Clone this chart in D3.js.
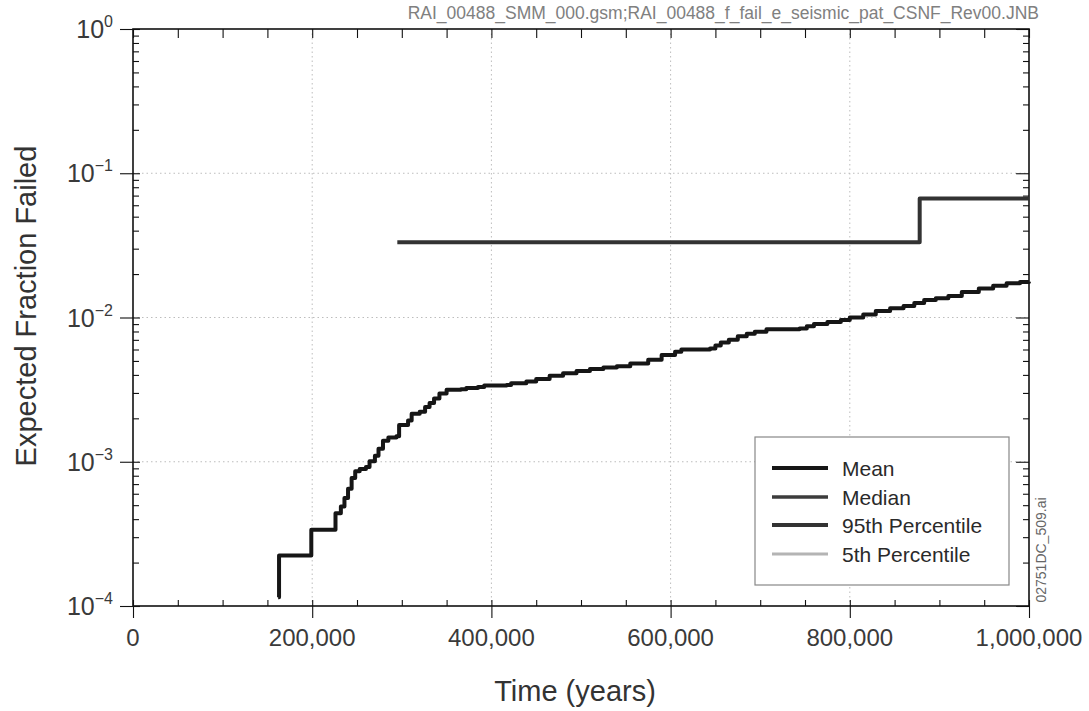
<!DOCTYPE html>
<html>
<head>
<meta charset="utf-8">
<script src="https://cdn.jsdelivr.net/npm/d3@7"></script>
<style>
  html, body { margin: 0; padding: 0; background: #fff; }
  svg { display: block; font-family: "Liberation Sans", Arial, sans-serif; }
</style>
</head>
<body>
<svg id="chart" width="1089" height="711"></svg>
<script>
// Expected fraction of packages failed versus time (seismic, CSNF)
const meanYears = [162000, 163000, 199000, 226000, 232000, 236000, 240000, 244000, 248000, 253000,
  260000, 264000, 270000, 274000, 279000, 285000, 294000, 297000, 307000, 311000,
  320000, 326000, 331000, 336000, 342000, 350000, 366000, 372000, 385000, 392000,
  417000, 422000, 439000, 450000, 465000, 480000, 495000, 510000, 525000, 540000,
  555000, 575000, 590000, 605000, 612000, 644000, 650000, 656000, 665000, 675000,
  685000, 694000, 707000, 744000, 752000, 760000, 775000, 790000, 800000, 815000,
  829000, 845000, 860000, 872000, 883000, 896000, 910000, 925000, 944000, 960000,
  975000, 990000, 1000000];
const meanValues = [1.15e-4, 2.24e-4, 3.38e-4, 4.4e-4, 4.9e-4, 5.6e-4, 6.5e-4, 7.7e-4, 8.6e-4, 8.9e-4,
  9.2e-4, 1.01e-3, 1.1e-3, 1.23e-3, 1.4e-3, 1.47e-3, 1.5e-3, 1.8e-3, 1.93e-3, 2.15e-3,
  2.22e-3, 2.4e-3, 2.55e-3, 2.75e-3, 2.97e-3, 3.15e-3, 3.18e-3, 3.25e-3, 3.3e-3, 3.38e-3,
  3.4e-3, 3.5e-3, 3.6e-3, 3.75e-3, 3.95e-3, 4.1e-3, 4.25e-3, 4.4e-3, 4.5e-3, 4.6e-3,
  4.8e-3, 5.1e-3, 5.5e-3, 5.8e-3, 6.0e-3, 6.1e-3, 6.4e-3, 6.7e-3, 7.0e-3, 7.4e-3,
  7.7e-3, 7.96e-3, 8.3e-3, 8.4e-3, 8.7e-3, 9.0e-3, 9.3e-3, 9.6e-3, 1.0e-2, 1.05e-2,
  1.11e-2, 1.16e-2, 1.2e-2, 1.26e-2, 1.32e-2, 1.36e-2, 1.41e-2, 1.5e-2, 1.59e-2, 1.66e-2,
  1.73e-2, 1.76e-2, 1.77e-2];

const medianYears = [0, 1000000];
const medianValues = [0, 0];

const p95Years = [295000, 878000, 1000000];
const p95Values = [0.0333, 0.0667, 0.0667];

const p5Years = [0, 1000000];
const p5Values = [0, 0];

const xTickValues = [0, 200000, 400000, 600000, 800000, 1000000];
const xTickLabels = ["0", "200,000", "400,000", "600,000", "800,000", "1,000,000"];
const yTickExponents = [-4, -3, -2, -1, 0];

const legendLabels = ["Mean", "Median", "95th Percentile", "5th Percentile"];
const seriesColors = ["#161616", "#3c3c3c", "#333333", "#b4b4b4"];
const seriesWidths = [4, 3.5, 4, 3];

const fileTag = "RAI_00488_SMM_000.gsm;RAI_00488_f_fail_e_seismic_pat_CSNF_Rev00.JNB";
const figureTag = "02751DC_509.ai";

// ---- layout ----
const plotLeft = 133, plotRight = 1029, plotTop = 29, plotBottom = 606;
const svg = d3.select("#chart");

const x = d3.scaleLinear().domain([0, 1000000]).range([plotLeft, plotRight]);
const y = d3.scaleLog().domain([1e-4, 1]).range([plotBottom, plotTop]);

const majorY = yTickExponents.map(e => Math.pow(10, e));
const minorY = [];
for (let e = -4; e < 0; e++) for (let m = 2; m <= 9; m++) minorY.push(m * Math.pow(10, e));
const minorX = d3.range(0, 1000001, 50000);

// gridlines
const grid = svg.append("g").attr("stroke", "#bdbdbd").attr("stroke-width", 1)
  .attr("stroke-dasharray", "1.5 3");
majorY.slice(1, -1).forEach(v => {
  grid.append("line").attr("x1", plotLeft).attr("x2", plotRight).attr("y1", y(v)).attr("y2", y(v));
});
xTickValues.slice(1, -1).forEach(v => {
  grid.append("line").attr("x1", x(v)).attr("x2", x(v)).attr("y1", plotTop).attr("y2", plotBottom);
});

// axes (tick marks)
function styleAxis(g) {
  g.select(".domain").remove();
  g.selectAll(".tick line").attr("stroke", "#111").attr("stroke-width", 1.1);
  g.selectAll(".tick text").remove();
}
// left: majors outward, majors + minors inward
svg.append("g").attr("transform", `translate(${plotLeft},0)`)
  .call(d3.axisLeft(y).tickValues(majorY).tickSize(13)).call(styleAxis);
svg.append("g").attr("transform", `translate(${plotLeft},0)`)
  .call(d3.axisRight(y).tickValues(majorY).tickSize(7)).call(styleAxis);
svg.append("g").attr("transform", `translate(${plotLeft},0)`)
  .call(d3.axisRight(y).tickValues(minorY).tickSize(6)).call(styleAxis);
// right: inward ticks
svg.append("g").attr("transform", `translate(${plotRight},0)`)
  .call(d3.axisLeft(y).tickValues(majorY).tickSize(13)).call(styleAxis);
svg.append("g").attr("transform", `translate(${plotRight},0)`)
  .call(d3.axisLeft(y).tickValues(minorY).tickSize(6)).call(styleAxis);
// bottom: majors outward, all inward
svg.append("g").attr("transform", `translate(0,${plotBottom})`)
  .call(d3.axisBottom(x).tickValues(xTickValues).tickSize(12)).call(styleAxis);
svg.append("g").attr("transform", `translate(0,${plotBottom})`)
  .call(d3.axisTop(x).tickValues(minorX).tickSize(6)).call(styleAxis);
// top: inward ticks
svg.append("g").attr("transform", `translate(0,${plotTop})`)
  .call(d3.axisBottom(x).tickValues(minorX).tickSize(9)).call(styleAxis);

// frame
svg.append("rect").attr("x", plotLeft).attr("y", plotTop)
  .attr("width", plotRight - plotLeft).attr("height", plotBottom - plotTop)
  .attr("fill", "none").attr("stroke", "#111").attr("stroke-width", 1.6);

// x tick labels
svg.append("g").selectAll("text").data(xTickValues).join("text")
  .attr("x", d => x(d)).attr("y", 646).attr("text-anchor", "middle")
  .attr("font-size", 24).attr("fill", "#3a3a3a")
  .text((d, i) => xTickLabels[i]);

// y tick labels 10^n
const yl = svg.append("g").selectAll("text").data(yTickExponents).join("text")
  .attr("x", 113).attr("y", e => y(Math.pow(10, e)) + 9).attr("text-anchor", "end")
  .attr("font-size", 25).attr("fill", "#3a3a3a");
yl.append("tspan").text("10");
yl.append("tspan").attr("dy", -11).attr("font-size", 16)
  .text(e => (e < 0 ? "\u2212" + Math.abs(e) : String(e)));

// axis titles
svg.append("text").attr("transform", "translate(36,306) rotate(-90)")
  .attr("text-anchor", "middle").attr("font-size", 29).attr("fill", "#333")
  .text("Expected Fraction Failed");
svg.append("text").attr("x", 575).attr("y", 701).attr("text-anchor", "middle")
  .attr("font-size", 29).attr("fill", "#333").text("Time (years)");

// file tag and figure id
svg.append("text").attr("x", 1039).attr("y", 19).attr("text-anchor", "end")
  .attr("font-size", 17.5).attr("fill", "#808080").text(fileTag);
svg.append("text").attr("transform", "translate(1046,550) rotate(-90)")
  .attr("text-anchor", "middle").attr("font-size", 14).attr("fill", "#666").text(figureTag);

// series
const series = [
  { years: meanYears, values: meanValues },
  { years: medianYears, values: medianValues },
  { years: p95Years, values: p95Values },
  { years: p5Years, values: p5Values }
];
const line = d3.line()
  .defined(d => d[1] > 0)
  .x(d => x(d[0])).y(d => y(d[1]))
  .curve(d3.curveStepAfter);
const plot = svg.append("g");
// draw 5th, median, 95th, then mean on top
[3, 1, 2, 0].forEach(i => {
  const s = series[i];
  const pts = s.years.map((t, k) => [t, s.values[k]]);
  plot.append("path").datum(pts)
    .attr("fill", "none").attr("stroke", seriesColors[i])
    .attr("stroke-width", seriesWidths[i]).attr("stroke-linejoin", "round")
    .attr("d", line);
});

// legend
const lg = svg.append("g");
lg.append("rect").attr("x", 755).attr("y", 437).attr("width", 254).attr("height", 148)
  .attr("fill", "#fff").attr("stroke", "#888").attr("stroke-width", 1.2);
const rowY = [468, 497, 525, 554];
legendLabels.forEach((lab, i) => {
  lg.append("line").attr("x1", 772).attr("x2", 828).attr("y1", rowY[i]).attr("y2", rowY[i])
    .attr("stroke", seriesColors[i]).attr("stroke-width", seriesWidths[i]);
  lg.append("text").attr("x", 842).attr("y", rowY[i] + 7.5).attr("font-size", 21)
    .attr("fill", "#2a2a2a").text(lab);
});
</script>
</body>
</html>
